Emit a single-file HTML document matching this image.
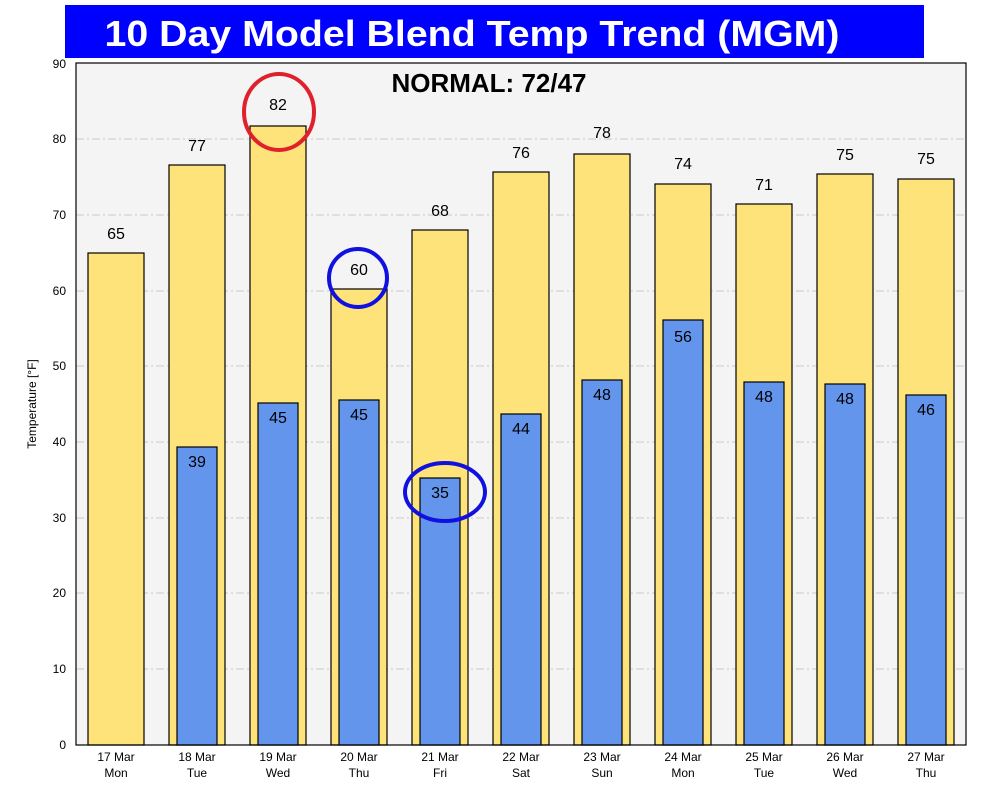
<!DOCTYPE html>
<html><head><meta charset="utf-8"><style>body{margin:0;background:#fff}svg{display:block}</style></head><body>
<svg width="984" height="808" xmlns="http://www.w3.org/2000/svg" font-family="Liberation Sans, DejaVu Sans, sans-serif">
<rect x="65" y="5" width="859" height="53" fill="#0000ff"/>
<text x="472" y="46" text-anchor="middle" fill="#fff" font-size="36" font-weight="bold" textLength="735" lengthAdjust="spacingAndGlyphs">10 Day Model Blend Temp Trend  (MGM)</text>
<rect x="76" y="63" width="890" height="682" fill="#f4f4f4"/>
<g stroke="#c8c8c8" stroke-dasharray="8,3,2,3" stroke-width="0.9">
<line x1="76" x2="966" y1="669" y2="669"/><line x1="76" x2="966" y1="593" y2="593"/><line x1="76" x2="966" y1="518" y2="518"/><line x1="76" x2="966" y1="442" y2="442"/><line x1="76" x2="966" y1="366" y2="366"/><line x1="76" x2="966" y1="291" y2="291"/><line x1="76" x2="966" y1="215" y2="215"/><line x1="76" x2="966" y1="139" y2="139"/>
</g>
<g font-size="12" text-anchor="end" fill="#000">
<text x="66" y="749">0</text><text x="66" y="673">10</text><text x="66" y="597">20</text><text x="66" y="522">30</text><text x="66" y="446">40</text><text x="66" y="370">50</text><text x="66" y="295">60</text><text x="66" y="219">70</text><text x="66" y="143">80</text><text x="66" y="68">90</text>
</g>
<text transform="translate(36,404) rotate(-90)" font-size="12" text-anchor="middle">Temperature [°F]</text>
<g stroke="#000" stroke-width="1.2" fill="#fee27a">
<rect x="88" y="253" width="56" height="492"/><rect x="169" y="165" width="56" height="580"/><rect x="250" y="126" width="56" height="619"/><rect x="331" y="289" width="56" height="456"/><rect x="412" y="230" width="56" height="515"/><rect x="493" y="172" width="56" height="573"/><rect x="574" y="154" width="56" height="591"/><rect x="655" y="184" width="56" height="561"/><rect x="736" y="204" width="56" height="541"/><rect x="817" y="174" width="56" height="571"/><rect x="898" y="179" width="56" height="566"/>
</g>
<g stroke="#000" stroke-width="1.2" fill="#6495ed">
<rect x="177" y="447" width="40" height="298"/><rect x="258" y="403" width="40" height="342"/><rect x="339" y="400" width="40" height="345"/><rect x="420" y="478" width="40" height="267"/><rect x="501" y="414" width="40" height="331"/><rect x="582" y="380" width="40" height="365"/><rect x="663" y="320" width="40" height="425"/><rect x="744" y="382" width="40" height="363"/><rect x="825" y="384" width="40" height="361"/><rect x="906" y="395" width="40" height="350"/>
</g>
<g font-size="16" text-anchor="middle" fill="#000">
<text x="116" y="239">65</text><text x="197" y="151">77</text><text x="278" y="110">82</text><text x="359" y="275">60</text><text x="440" y="216">68</text><text x="521" y="158">76</text><text x="602" y="138">78</text><text x="683" y="169">74</text><text x="764" y="190">71</text><text x="845" y="160">75</text><text x="926" y="164">75</text>
<text x="197" y="467">39</text><text x="278" y="423">45</text><text x="359" y="420">45</text><text x="440" y="498">35</text><text x="521" y="434">44</text><text x="602" y="400">48</text><text x="683" y="342">56</text><text x="764" y="402">48</text><text x="845" y="404">48</text><text x="926" y="415">46</text>
</g>
<rect x="76" y="63" width="890" height="682" fill="none" stroke="#000" stroke-width="1.2"/>
<g font-size="12" text-anchor="middle">
<text x="116" y="761">17 Mar</text><text x="116" y="777">Mon</text>
<text x="197" y="761">18 Mar</text><text x="197" y="777">Tue</text>
<text x="278" y="761">19 Mar</text><text x="278" y="777">Wed</text>
<text x="359" y="761">20 Mar</text><text x="359" y="777">Thu</text>
<text x="440" y="761">21 Mar</text><text x="440" y="777">Fri</text>
<text x="521" y="761">22 Mar</text><text x="521" y="777">Sat</text>
<text x="602" y="761">23 Mar</text><text x="602" y="777">Sun</text>
<text x="683" y="761">24 Mar</text><text x="683" y="777">Mon</text>
<text x="764" y="761">25 Mar</text><text x="764" y="777">Tue</text>
<text x="845" y="761">26 Mar</text><text x="845" y="777">Wed</text>
<text x="926" y="761">27 Mar</text><text x="926" y="777">Thu</text>
</g>
<text x="489" y="92" text-anchor="middle" font-size="26" font-weight="bold">NORMAL: 72/47</text>
<ellipse cx="279" cy="112" rx="35" ry="38" fill="none" stroke="#e0202a" stroke-width="4"/>
<ellipse cx="358" cy="278" rx="29" ry="29" fill="none" stroke="#1010e0" stroke-width="4"/>
<ellipse cx="445" cy="492" rx="40" ry="29" fill="none" stroke="#1010e0" stroke-width="4"/>
</svg>
</body></html>
